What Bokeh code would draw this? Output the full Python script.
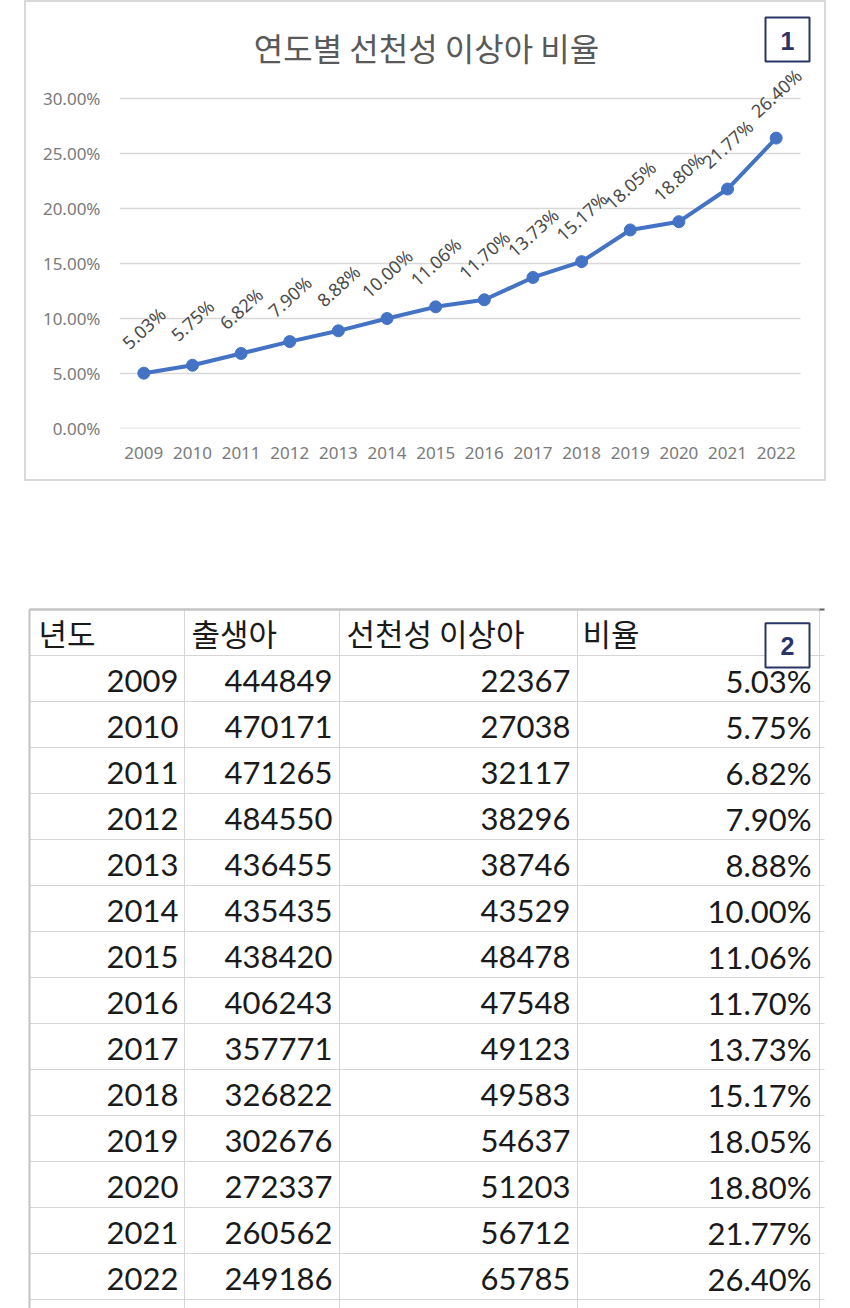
from bokeh.plotting import figure
from bokeh.models import Range1d, NumeralTickFormatter, FixedTicker, ColumnDataSource
from bokeh.embed import file_html
from bokeh.resources import INLINE
from bokeh.core.properties import value

# ---------------- data ----------------
years = [2009, 2010, 2011, 2012, 2013, 2014, 2015,
         2016, 2017, 2018, 2019, 2020, 2021, 2022]
births = [444849, 470171, 471265, 484550, 436455, 435435, 438420,
          406243, 357771, 326822, 302676, 272337, 260562, 249186]
anomalies = [22367, 27038, 32117, 38296, 38746, 43529, 48478,
             47548, 49123, 49583, 54637, 51203, 56712, 65785]
ratio_pct = [5.03, 5.75, 6.82, 7.90, 8.88, 10.00, 11.06,
             11.70, 13.73, 15.17, 18.05, 18.80, 21.77, 26.40]
y_tick_values = [0.0, 0.05, 0.10, 0.15, 0.20, 0.25, 0.30]
headers = ["년도", "출생아", "선천성 이상아", "비율"]
chart_title = "연도별 선천성 이상아 비율"

KR = "Noto Sans CJK KR"
LAT = "Noto Sans"
NUM = "Lato"

# ---------------- chart (page box x 26..824, y 2..479) ----------------
ratio = [r / 100 for r in ratio_pct]
ratio_labels = [f"{r:.2f}%" for r in ratio_pct]
src = ColumnDataSource(dict(year=years, ratio=ratio, label=ratio_labels))

BOX_L, BOX_T, BOX_W, BOX_H = 26, 2, 798, 477
FRAME_L, FRAME_B = 119, 428          # page px of plot area left / 0% line
PX_YEAR = (800 - 119) / len(years)    # px per category
PX_UNIT = 55 / 0.05                   # px per ratio unit

x_start = years[0] - 0.5
x_end = x_start + (BOX_L + BOX_W - FRAME_L) / PX_YEAR
y_end = (FRAME_B - BOX_T) / PX_UNIT


def cx(px):
    return x_start + (px - FRAME_L) / PX_YEAR


def cy(py):
    return (FRAME_B - py) / PX_UNIT


p1 = figure(width=BOX_W, height=BOX_H, x_range=Range1d(x_start, x_end),
            y_range=Range1d(0, y_end), output_backend="svg", toolbar_location=None,
            min_border_left=FRAME_L - BOX_L, min_border_right=0, min_border_top=0,
            min_border_bottom=BOX_T + BOX_H - FRAME_B)
p1.margin = (BOX_T, 0, 540 - BOX_T - BOX_H, BOX_L)
p1.styles = {"outline": "2px solid #d9d9d9"}
p1.outline_line_color = None
p1.background_fill_color = "white"
p1.border_fill_color = "white"
p1.grid.grid_line_color = None
p1.yaxis.ticker = FixedTicker(ticks=y_tick_values)
p1.yaxis.formatter = NumeralTickFormatter(format="0.00%")
p1.xaxis.ticker = FixedTicker(ticks=years)
for ax in (p1.xaxis[0], p1.yaxis[0]):
    ax.axis_line_color = None
    ax.major_tick_line_color = None
    ax.minor_tick_line_color = None
    ax.major_tick_out = 0
    ax.major_tick_in = 0
    ax.minor_tick_out = 0
    ax.major_label_text_font = LAT
    ax.major_label_text_font_size = "17px"
    ax.major_label_text_color = "#7a7a7a"
p1.yaxis.major_label_standoff = 19
p1.xaxis.major_label_standoff = 18

# horizontal grid lines at the tick values, across the category span
n_t = len(y_tick_values)
p1.segment(x0=[years[0] - 0.5] * n_t, x1=[years[-1] + 0.5] * n_t,
           y0=y_tick_values, y1=y_tick_values, line_color="#d9d9d9", line_width=1.5)

p1.line("year", "ratio", source=src, line_color="#4472C4", line_width=4)
p1.scatter("year", "ratio", source=src, size=12, fill_color="#4472C4",
           line_color="#4472C4")
p1.text("year", "ratio", text="label", source=src, angle=0.74, y_offset=-45,
        text_align="center", text_baseline="middle",
        text_font=value(LAT), text_font_size="18px", text_color="#4a4a4a")

p1.text(x=[cx(426)], y=[cy(46)], text=[chart_title], text_align="center",
        text_baseline="middle", text_font=value(KR), text_font_size="32px",
        text_color="#595959")
p1.quad(left=[cx(765)], right=[cx(809)], top=[cy(17)], bottom=[cy(61)],
        fill_color="white", line_color="#2b3467", line_width=2)
p1.text(x=[cx(787)], y=[cy(40)], text=["1"], text_align="center",
        text_baseline="middle", text_font=value("Liberation Sans"),
        text_font_style="bold", text_font_size="25px", text_color="#2b3467")

# ---------------- table (page y 540..1308) ----------------
row_h = 46.0
fig2_h = 768
header_center_px = 632 - 540
top_rows = -header_center_px / row_h
bottom_rows = top_rows + fig2_h / row_h
p2 = figure(width=850, height=fig2_h, x_range=Range1d(0, 850),
            y_range=Range1d(bottom_rows, top_rows), output_backend="svg",
            toolbar_location=None, x_axis_location=None, y_axis_location=None,
            min_border=0)
p2.outline_line_color = None
p2.grid.grid_line_color = None
p2.border_fill_color = "white"

col_edges = [29, 184, 339, 577, 819]
n_rows = len(years) + 1
h_lines_y = [i - 0.5 for i in range(1, n_rows + 1)]
p2.segment(x0=[col_edges[0]] * len(h_lines_y), x1=[824] * len(h_lines_y),
           y0=h_lines_y, y1=h_lines_y, line_color="#d6d6d6", line_width=1)
p2.segment(x0=col_edges[1:], x1=col_edges[1:], y0=[-0.5] * 4,
           y1=[bottom_rows] * 4, line_color="#d6d6d6", line_width=1)
p2.segment(x0=[col_edges[0]], x1=[col_edges[0]], y0=[-0.5], y1=[bottom_rows],
           line_color="#c4c4c4", line_width=2)
p2.segment(x0=[col_edges[0]], x1=[819], y0=[-0.5], y1=[-0.5],
           line_color="#c4c4c4", line_width=2.5)
p2.segment(x0=[819], x1=[824], y0=[-0.5], y1=[-0.5],
           line_color="#606060", line_width=2)

header_x = [38, 191, 346, 582]
p2.text(x=header_x, y=[0] * 4, text=headers, text_align="left",
        text_baseline="middle", text_font=value(KR), text_font_size="31px",
        text_color="#1a1a1a")

row_y = [i + 0.05 for i in range(1, len(years) + 1)]
cell_cols = [
    (178, [str(y) for y in years]),
    (332, [str(b) for b in births]),
    (570, [str(a) for a in anomalies]),
    (811, ratio_labels),
]
for x_right, texts in cell_cols:
    p2.text(x=[x_right] * len(texts), y=row_y, text=texts, text_align="right",
            text_baseline="middle", text_font=value(NUM), text_font_size="31px",
            text_color="#1a1a1a")

p2.quad(left=[765], right=[809], top=[-0.2], bottom=[0.76], fill_color="white",
        line_color="#2b3467", line_width=2)
p2.text(x=[787], y=[0.3], text=["2"], text_align="center", text_baseline="middle",
        text_font=value("Liberation Sans"), text_font_style="bold",
        text_font_size="25px", text_color="#2b3467")

open("out.html", "w").write(file_html([p1, p2], INLINE))
